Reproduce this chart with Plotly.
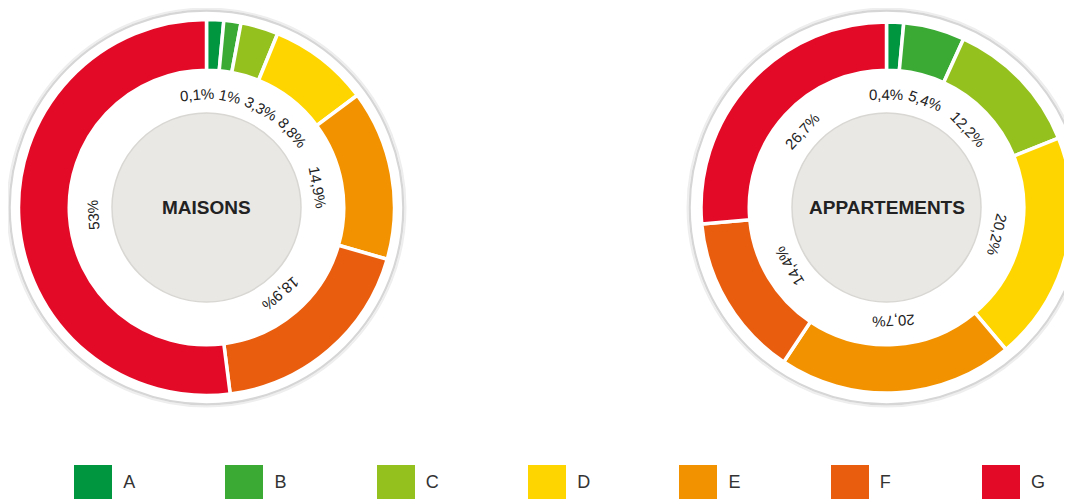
import math
import numpy as np
import plotly.graph_objects as go

# ---------------- data ----------------
classes = ["A", "B", "C", "D", "E", "F", "G"]
class_colors = ["#009640", "#3aaa35", "#95c11f", "#ffd500", "#f39200", "#e95d0f", "#e30a27"]
maisons = [0.1, 1, 3.3, 8.8, 14.9, 18.9, 53]
appartements = [0.4, 5.4, 12.2, 20.2, 20.7, 14.4, 26.7]
titles = ["MAISONS", "APPARTEMENTS"]

# ---------------- layout constants ----------------
OFF = 8                  # default page margin of the html body
W, H = 1072 - OFF, 499 - OFF
MIN_SHARE = 1.5          # minimum visible share of a slice
LINE_W = 3.5             # white separator between slices
FONT = "Liberation Sans, Arial, Helvetica, sans-serif"
LABEL_R = 113.5
LABEL_SIZE = 15
LABEL_PAD = 1.4          # extra angular padding (deg) on each side of a label
PUSH_FWD = 0.65          # share of an overlap resolved by moving the later label

# geometry given in page pixels
donuts = [
    dict(values=maisons, title=titles[0], cx=206.5, cy=207.5, R=188.0),
    dict(values=appartements, title=titles[1], cx=886.5, cy=207.5, R=185.5),
]

CHAR_W = {"0": .556, "1": .556, "2": .556, "3": .556, "4": .556, "5": .556,
          "6": .556, "7": .556, "8": .556, "9": .556, ",": .278, "%": .889}


def fmt(v):
    return f"{v:g}".replace(".", ",") + "%"


def px(x):
    return (x - OFF) / W


def py(y):
    return 1 - (y - OFF) / H


fig = go.Figure()
shapes = []
annotations = []

for d in donuts:
    vals = np.array(d["values"], dtype=float)
    disp = np.maximum(vals, MIN_SHARE)
    cx, cy, R = d["cx"], d["cy"], d["R"]
    inner_vis = 139.0
    hole = (inner_vis - LINE_W / 2) / R

    # outer plate with soft border
    for r, col, lw in [(199.0, "#eeeeee", 2), (196.8, "#d6d6d6", 2.2)]:
        shapes.append(dict(type="circle", xref="paper", yref="paper",
                           x0=px(cx - r), x1=px(cx + r), y0=py(cy + r), y1=py(cy - r),
                           fillcolor="white", line=dict(color=col, width=lw), layer="below"))
    # inner grey disc
    r = 94.5
    shapes.append(dict(type="circle", xref="paper", yref="paper",
                       x0=px(cx - r), x1=px(cx + r), y0=py(cy + r), y1=py(cy - r),
                       fillcolor="#e9e8e5", line=dict(color="#d9d7d3", width=1.5), layer="below"))

    fig.add_trace(go.Pie(
        labels=classes, values=disp, customdata=vals,
        marker=dict(colors=class_colors, line=dict(color="white", width=LINE_W)),
        hole=hole, sort=False, direction="clockwise", rotation=0,
        textinfo="none", hoverinfo="skip", showlegend=False,
        domain=dict(x=[max(0.0, px(cx - R)), min(1.0, px(cx + R))],
                    y=[max(0.0, py(cy + R)), min(1.0, py(cy - R))]),
    ))

    # label placement along the white ring
    total = disp.sum()
    cum = np.cumsum(disp)
    mids = list((cum - disp / 2) / total * 360.0)
    texts = [fmt(v) for v in vals]
    hw = []
    for t in texts:
        wpx = sum(CHAR_W[c] for c in t) * LABEL_SIZE
        hw.append(math.degrees(wpx / LABEL_R) / 2 + LABEL_PAD)
    pos = mids[:]
    for _ in range(400):
        for i in range(len(pos) - 1):
            need = hw[i] + hw[i + 1]
            ov = pos[i] + need - pos[i + 1]
            if ov > 0:
                pos[i] -= ov * (1 - PUSH_FWD)
                pos[i + 1] += ov * PUSH_FWD
    for t, th in zip(texts, pos):
        rad = math.radians(th)
        x = cx + LABEL_R * math.sin(rad)
        y = cy - LABEL_R * math.cos(rad)
        ang = ((th + 180) % 360) - 180
        annotations.append(dict(text=t, x=px(x), y=py(y), xref="paper", yref="paper",
                                xanchor="center", yanchor="middle", showarrow=False,
                                textangle=ang,
                                font=dict(family=FONT, size=LABEL_SIZE, color="#222222")))
    annotations.append(dict(text=d["title"], x=px(cx), y=py(cy), xref="paper", yref="paper",
                            xanchor="center", yanchor="middle", showarrow=False,
                            font=dict(family=FONT, size=19, color="#222222", weight="bold")))

# ---------------- legend drawn as bars on a hidden axis ----------------
step = 151.3
first_center = 93.0 - OFF
idx = list(range(len(classes)))
fig.add_trace(go.Bar(x=idx, y=[1] * len(classes), width=38 / step,
                     marker=dict(color=class_colors, line=dict(width=0)),
                     hoverinfo="skip", showlegend=False))
fig.add_trace(go.Scatter(x=[i + 0.2 for i in idx], y=[0.45] * len(classes), mode="text",
                         text=classes, textposition="middle right",
                         textfont=dict(family=FONT, size=18, color="#333333"),
                         hoverinfo="skip", showlegend=False))

fig.update_layout(
    width=W, height=H,
    margin=dict(l=0, r=0, t=0, b=0),
    paper_bgcolor="white", plot_bgcolor="rgba(0,0,0,0)",
    shapes=shapes, annotations=annotations,
    xaxis=dict(domain=[0, 1], range=[-first_center / step, (W - first_center) / step],
               visible=False, fixedrange=True),
    yaxis=dict(domain=[0, 34 / H], range=[0, 1], visible=False, fixedrange=True),
    bargap=0,
)

fig.write_html("out.html", config={"displayModeBar": False})
